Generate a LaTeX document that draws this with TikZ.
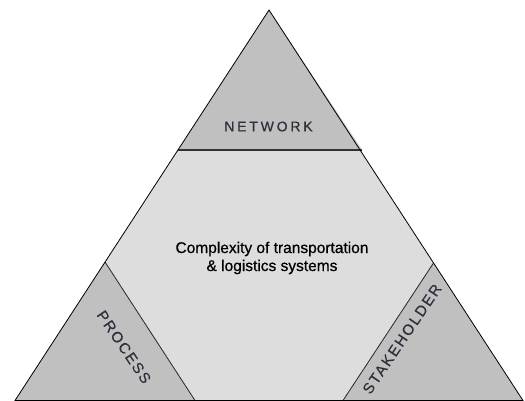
\documentclass[tikz,border=0pt]{standalone}
\usepackage{fontspec}
\setmainfont{Liberation Sans}
\newfontfamily\spacedfont[LetterSpace=20,FakeBold=0.3]{Liberation Sans}
\newfontfamily\tiltfont[LetterSpace=12,FakeBold=0.3]{Liberation Sans}
\newfontfamily\centerfont[FakeBold=0.6]{Liberation Sans}
\definecolor{darkfill}{HTML}{C0C0C0}
\definecolor{lightfill}{HTML}{DDDDDD}
\definecolor{labelcol}{HTML}{2E2E3A}
\tikzset{
  edge/.style={draw=black, line width=0.8pt, line join=miter},
  cutline/.style={draw=black!85, line width=0.8pt},
  toplabel/.style={font=\spacedfont\fontsize{14}{16}\selectfont, text=labelcol, inner sep=0pt},
  tiltlabel/.style={font=\tiltfont\fontsize{15}{16}\selectfont, text=labelcol, inner sep=0pt},
  centerlabel/.style={font=\centerfont\fontsize{15.5}{18}\selectfont, text=black, align=center, inner sep=0pt},
}
\begin{document}
\begin{tikzpicture}[x=1pt,y=-1pt]
\useasboundingbox (0,0) rectangle (525,401);
% main triangle vertices
\coordinate (apex) at (269,10);
\coordinate (bl) at (15,400.5);
\coordinate (br) at (523,400.5);
% cut points
\coordinate (tl) at (178,150);
\coordinate (tr) at (362,150);
\coordinate (lt) at (105,262);
\coordinate (lb) at (195,400.5);
\coordinate (rt) at (433.5,263);
\coordinate (rb) at (343,400.5);
% fills
\fill[lightfill] (apex) -- (br) -- (bl) -- cycle;
\fill[darkfill] (apex) -- (tr) -- (tl) -- cycle;
\fill[darkfill] (lt) -- (lb) -- (bl) -- cycle;
\fill[darkfill] (rt) -- (br) -- (rb) -- cycle;
% cut lines
\draw[black!80, line width=1.3pt] (tl) -- (tr);
\draw[cutline] (lt) -- (lb);
\draw[cutline] (rt) -- (rb);
% outline
\draw[edge] (apex) -- (br) -- (bl) -- cycle;
% labels
\node[toplabel] (network) at (268.5,126.5) {NETWORK};
\node[tiltlabel, rotate=-56] (process) at (124,347) {PROCESS};
\node[tiltlabel, rotate=56] (stakeholder) at (402,339) {STAKEHOLDER};
\node[centerlabel] (complexity) at (272,258) {Complexity of transportation\\\& logistics systems};
\end{tikzpicture}
\end{document}
